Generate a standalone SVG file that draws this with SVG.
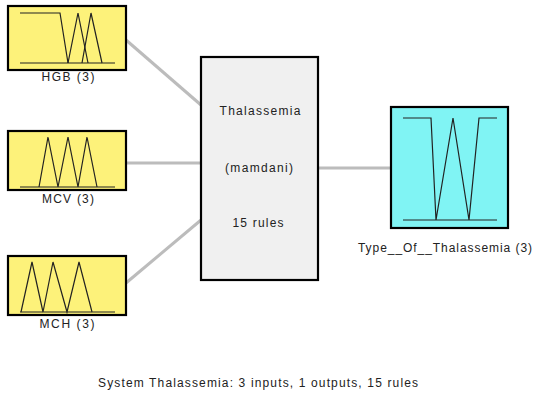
<svg xmlns="http://www.w3.org/2000/svg" width="543" height="396" viewBox="0 0 543 396">
<style>
.lbl{font-family:"Liberation Sans",Arial,sans-serif;font-size:12px;fill:#222;text-anchor:middle}
.in{fill:#fdf27a;stroke:#000;stroke-width:2.2}
.out{fill:#80f4f4;stroke:#000;stroke-width:2.2}
.sys{fill:#f0f0f0;stroke:#000;stroke-width:2.2}
.mf{fill:none;stroke:#222;stroke-width:1.2}
.conn{stroke:#bcbcbc;stroke-width:3;fill:none}
</style>
<rect width="543" height="396" fill="#fff"/>
<g id="connectors">
<line class="conn" x1="126" y1="40" x2="201" y2="105"/>
<line class="conn" x1="126" y1="163" x2="201" y2="163"/>
<line class="conn" x1="126" y1="283" x2="201" y2="220"/>
<line class="conn" x1="318" y1="168" x2="391" y2="168"/>
</g>
<g id="HGB">
<rect class="in" x="8" y="6" width="118" height="64"/>
<polyline class="mf" points="20,63 115,63"/>
<polyline class="mf" points="20,13 60,13 68,63"/>
<polyline class="mf" points="68,63 78,13 88,63"/>
<polyline class="mf" points="82,63 91,13 102,63"/>
<text class="lbl" x="68" y="81" textLength="53" lengthAdjust="spacing">HGB (3)</text>
</g>
<g id="MCV">
<rect class="in" x="8" y="131" width="118" height="59"/>
<polyline class="mf" points="20,187 115,187"/>
<polyline class="mf" points="39,187 48,137 58,187 68,137 78,187 87,137 97,187"/>
<text class="lbl" x="68" y="203" textLength="52" lengthAdjust="spacing">MCV (3)</text>
</g>
<g id="MCH">
<rect class="in" x="8" y="256" width="118" height="59"/>
<polyline class="mf" points="20,312 115,312"/>
<polyline class="mf" points="21,312 32,262 43,312 53,262 67,312 79,262 92,312"/>
<text class="lbl" x="67" y="328" textLength="55" lengthAdjust="spacing">MCH (3)</text>
</g>
<g id="Thalassemia">
<rect class="sys" x="201" y="57" width="117" height="223"/>
<text class="lbl" x="260" y="115" textLength="81" lengthAdjust="spacing">Thalassemia</text>
<text class="lbl" x="259" y="172" textLength="68" lengthAdjust="spacing">(mamdani)</text>
<text class="lbl" x="258" y="227" textLength="51" lengthAdjust="spacing">15 rules</text>
</g>
<g id="Type_Of_Thalassemia">
<rect class="out" x="391" y="107" width="117" height="121"/>
<polyline class="mf" points="403,220 497,220"/>
<polyline class="mf" points="403,118 431,118 436,220 453,118 469,220 479,118 497,118"/>
<text class="lbl" x="445" y="252" textLength="174" lengthAdjust="spacing">Type__Of__Thalassemia (3)</text>
</g>
<text class="lbl" x="258" y="387" textLength="320" lengthAdjust="spacing">System Thalassemia: 3 inputs, 1 outputs, 15 rules</text>
</svg>
